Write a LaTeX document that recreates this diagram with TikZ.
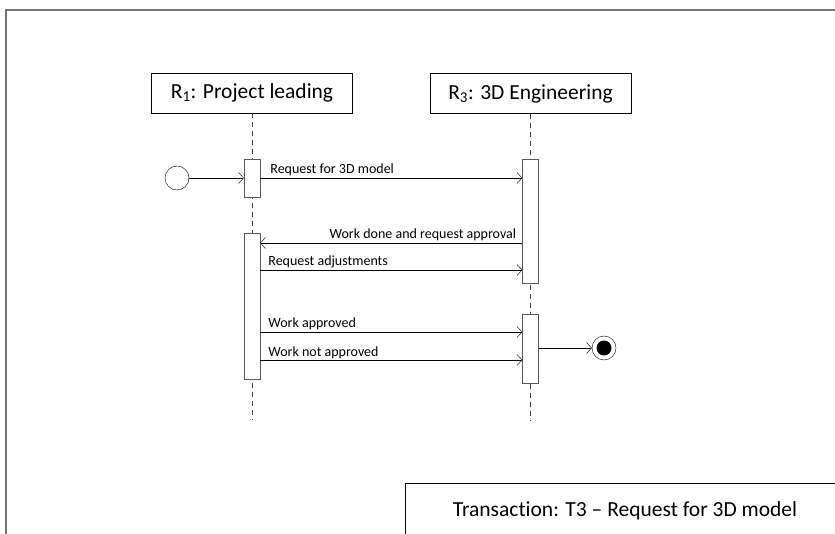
\documentclass[tikz,border=0pt]{standalone}
\usepackage{fontspec}
\setmainfont{Carlito}[Ligatures=NoCommon]
\usetikzlibrary{arrows.meta}

\begin{document}
\begin{tikzpicture}[x=1pt, y=-1pt,
        head/.style = {draw=black, minimum width=201pt, minimum height=40pt, inner sep=0pt, font=\fontsize{21.5}{24}\selectfont},
        bar/.style = {draw=black!65, fill=white, minimum width=16pt, inner sep=0pt},
        life/.style = {draw=black!75, dash pattern=on 5pt off 4pt},
        msg/.style = {-{Straight Barb[length=5pt,width=11pt]}},
        lbl/.style = {font=\fontsize{14}{16}\selectfont, inner sep=0pt, yshift=4pt}]
        \useasboundingbox (0,0) rectangle (835,534);
        \draw[black!55, line width=1.5pt] (6,534) -- (6,10) -- (835,10);

        % lifelines
        \node[head] (1) at (252,93) {R\textsubscript{1}: Project leading};
        \node[head] (3) at (530.5,93.5) {R\textsubscript{3}: 3D Engineering};
        \coordinate (1e) at (252,420);
        \coordinate (3e) at (530.5,420);
        \draw[life] (1) -- (1e);
        \draw[life] (3) -- (3e);

        % activations
        \node[bar, minimum height=38pt] (a1) at (252,178) {};
        \node[bar, minimum height=146pt] (a2) at (252,306) {};
        \node[bar, minimum height=124pt] (b1) at (530.5,221) {};
        \node[bar, minimum height=69pt] (b2) at (530.5,348.5) {};

        \node[draw=black, circle, minimum size=24pt, inner sep=0pt] (s) at (177,178) {};
        \node[draw=black, circle, minimum size=24pt, inner sep=0pt] (f) at (604,348) {};
        \node[fill=black, circle, minimum size=15pt, inner sep=0pt] at (f) {};

        % messages
        \draw[msg] (a1.east |- 0,178) -- node[lbl, pos=0, anchor=base west, xshift=10pt] {Request for 3D model} (b1.west |- 0,178);
        \draw[msg] (b1.west |- 0,243) -- node[lbl, pos=0, anchor=base east, xshift=-6pt] {Work done and request approval} (a2.east |- 0,243);
        \draw[msg] (a2.east |- 0,270) -- node[lbl, pos=0, anchor=base west, xshift=8pt] {Request adjustments} (b1.west |- 0,270);
        \draw[msg] (a2.east |- 0,332) -- node[lbl, pos=0, anchor=base west, xshift=8pt] {Work approved} (b2.west |- 0,332);
        \draw[msg] (a2.east |- 0,360) -- node[lbl, pos=0, anchor=base west, xshift=8pt] {Work not approved} (b2.west |- 0,360);
        \draw[msg] (s) -- (a1);
        \draw[msg] (b2.east |- f) -- (f);

        % transaction
        \draw[black] (405,534) -- (405,483) -- (835,483);
        \node[font=\fontsize{21.5}{24}\selectfont] (t) at (625,511) {Transaction: T3 -- Request for 3D model};
    \end{tikzpicture}
\end{document}
